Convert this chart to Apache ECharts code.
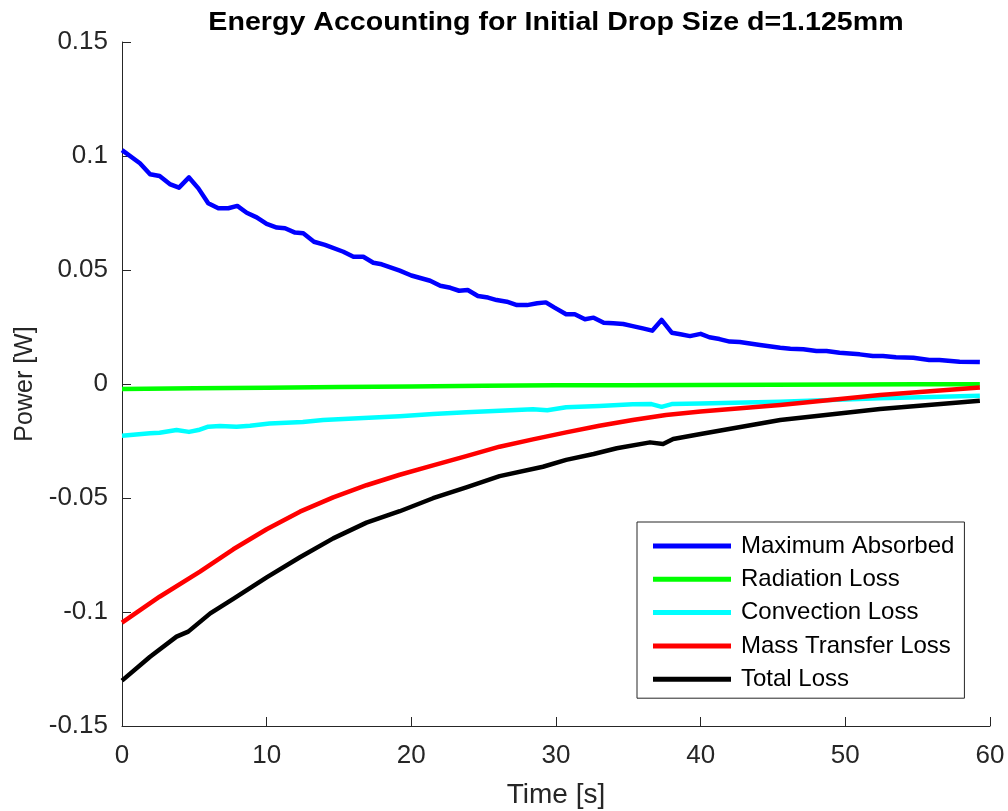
<!DOCTYPE html>
<html>
<head>
<meta charset="utf-8">
<script src="https://cdn.jsdelivr.net/npm/echarts@6/dist/echarts.min.js"></script>
<style>html,body{margin:0;padding:0;background:#fff}#c{width:1008px;height:811px}</style>
</head>
<body>
<div id="c"></div>
<script>
const chartTitle = 'Energy Accounting for Initial Drop Size d=1.125mm';
const seriesNames = ['Maximum Absorbed', 'Radiation Loss', 'Convection Loss', 'Mass Transfer Loss', 'Total Loss'];
const seriesColors = ['#0000ff', '#00ff00', '#00ffff', '#ff0000', '#000000'];
const xTicks = [0, 10, 20, 30, 40, 50, 60];
const yTicks = [-0.15, -0.1, -0.05, 0, 0.05, 0.1, 0.15];

const maxAbsorbed = [[0,0.1026],[1.24,0.0968],[1.94,0.092],[2.6,0.0912],[3.3,0.0877],[3.94,0.0861],[4.63,0.0906],[5.28,0.0858],[5.96,0.0793],[6.66,0.0771],[7.35,0.0771],[7.97,0.0781],[8.62,0.0751],[9.31,0.0731],[10.0,0.0702],[10.7,0.0686],[11.27,0.0683],[11.96,0.0664],[12.53,0.0661],[13.27,0.0624],[14.03,0.061],[15.3,0.058],[16.0,0.0558],[16.68,0.0558],[17.37,0.0532],[17.95,0.0525],[19.2,0.0497],[20.0,0.0476],[21.3,0.0453],[22.0,0.0431],[22.7,0.0422],[23.3,0.0409],[23.9,0.0412],[24.6,0.0386],[25.3,0.0379],[25.9,0.0368],[26.6,0.0361],[27.3,0.0346],[28.0,0.0346],[28.7,0.0354],[29.3,0.0358],[29.9,0.0335],[30.7,0.0306],[31.3,0.0306],[32.0,0.0284],[32.6,0.0291],[33.3,0.0269],[33.96,0.0266],[34.65,0.0263],[35.3,0.0254],[36.0,0.0244],[36.65,0.0234],[37.3,0.0281],[38.0,0.0225],[38.6,0.0218],[39.26,0.021],[40.0,0.022],[40.6,0.0205],[41.3,0.0197],[42.0,0.0186],[42.7,0.0184],[44.1,0.0171],[45.5,0.0159],[46.2,0.0155],[47.1,0.0152],[48.0,0.0145],[48.7,0.0145],[49.6,0.0137],[51.0,0.013],[51.9,0.0123],[52.6,0.0123],[53.5,0.0117],[54.7,0.0115],[55.8,0.0105],[56.5,0.0105],[57.9,0.0098],[59.3,0.0096]];

const radiationLoss = [[0,-0.0022],[5,-0.0019],[10,-0.0016],[15,-0.0013],[20,-0.0011],[25,-0.0008],[30,-0.0006],[35,-0.0005],[40,-0.0004],[45,-0.0003],[50,-0.0002],[55,-0.0001],[59.3,-0.0001]];

const convectionLoss = [[0,-0.0227],[1.94,-0.0216],[2.6,-0.0214],[3.77,-0.0202],[4.63,-0.021],[5.28,-0.0202],[5.96,-0.0187],[6.77,-0.0184],[7.92,-0.0188],[8.85,-0.0183],[10.2,-0.0173],[12.5,-0.0167],[13.9,-0.0158],[16.7,-0.0149],[19.2,-0.0141],[21.5,-0.0132],[23.8,-0.0124],[26.1,-0.0117],[28.4,-0.0111],[29.4,-0.0115],[30.7,-0.0102],[33.0,-0.0096],[35.3,-0.0089],[36.6,-0.0088],[37.3,-0.0100],[38.0,-0.0088],[40.0,-0.0085],[45.5,-0.0078],[52.4,-0.0063],[59.3,-0.0051]];

const massTransferLoss = [[0,-0.1047],[2.6,-0.0933],[5.39,-0.0823],[7.69,-0.0725],[10,-0.0637],[12.3,-0.056],[14.6,-0.0497],[16.9,-0.0444],[19.2,-0.0398],[21.5,-0.0357],[23.8,-0.0316],[26.1,-0.0275],[28.4,-0.0243],[30.7,-0.0212],[33,-0.0183],[35.3,-0.0158],[37.6,-0.0136],[40,-0.0121],[45.5,-0.0092],[52.4,-0.0048],[59.3,-0.0015]];

const totalLoss = [[0,-0.1301],[1.94,-0.1196],[3.77,-0.1108],[4.58,-0.1086],[6.1,-0.1006],[7.69,-0.0942],[10,-0.0848],[12.3,-0.076],[14.6,-0.0677],[16.9,-0.0608],[19.2,-0.0558],[21.5,-0.0501],[23.8,-0.0453],[26.1,-0.0404],[29.1,-0.0363],[30.7,-0.0333],[32.6,-0.0307],[34.2,-0.0282],[36.5,-0.0256],[37.4,-0.0263],[38.1,-0.0241],[40,-0.0219],[45.5,-0.0158],[52.4,-0.011],[59.3,-0.0073]];

const seriesData = [maxAbsorbed, radiationLoss, convectionLoss, massTransferLoss, totalLoss];

const FONT = '"Liberation Sans", Arial, Helvetica, sans-serif';
const TXT = '#262626';

const chart = echarts.init(document.getElementById('c'), null, {renderer: 'canvas'});
chart.setOption({
  animation: false,
  backgroundColor: '#ffffff',
  graphic: [{
    type: 'text', x: 556, y: 23, scaleX: 1.1, scaleY: 1,
    style: {
      text: chartTitle, fill: '#000',
      fontFamily: FONT, fontSize: 26, fontWeight: 'bold',
      align: 'center', verticalAlign: 'middle',
      textAlign: 'center', textVerticalAlign: 'middle'
    }
  }],
  grid: {left: 122, right: 18, top: 42, bottom: 85, containLabel: false, outerBoundsMode: 'none'},
  legend: {
    orient: 'vertical', left: 637, top: 522,
    padding: [12, 10, 7, 16],
    backgroundColor: '#fff', borderColor: TXT, borderWidth: 1,
    icon: 'rect', itemWidth: 78, itemHeight: 5, itemGap: 9.3,
    textStyle: {fontFamily: FONT, fontSize: 24, color: '#000', lineHeight: 24, padding: [0, 0, 0, 5]},
    data: seriesNames
  },
  xAxis: {
    type: 'value', min: xTicks[0], max: xTicks[xTicks.length - 1], interval: 10,
    name: 'Time [s]', nameLocation: 'middle', nameGap: 55,
    nameTextStyle: {fontFamily: FONT, fontSize: 28, color: TXT},
    axisLine: {show: true, onZero: false, lineStyle: {color: TXT, width: 1}},
    axisTick: {show: true, inside: true, length: 9, lineStyle: {color: TXT}},
    axisLabel: {fontFamily: FONT, fontSize: 26, color: TXT, margin: 17},
    splitLine: {show: false}
  },
  yAxis: {
    type: 'value', min: yTicks[0], max: yTicks[yTicks.length - 1], interval: 0.05,
    name: 'Power [W]', nameLocation: 'middle', nameGap: 83,
    nameTextStyle: {fontFamily: FONT, fontSize: 25, color: TXT},
    axisLine: {show: true, onZero: false, lineStyle: {color: TXT, width: 1}},
    axisTick: {show: true, inside: true, length: 9, lineStyle: {color: TXT}},
    axisLabel: {fontFamily: FONT, fontSize: 26, color: TXT, margin: 14,
      formatter: v => String(parseFloat(v.toFixed(2)))},
    splitLine: {show: false}
  },
  series: seriesNames.map((n, i) => ({
    name: n, type: 'line', data: seriesData[i],
    showSymbol: false, symbol: 'none',
    lineStyle: {width: 4.5, color: seriesColors[i], join: 'round'},
    itemStyle: {color: seriesColors[i]},
    z: 2 + i
  }))
});
</script>
</body>
</html>
